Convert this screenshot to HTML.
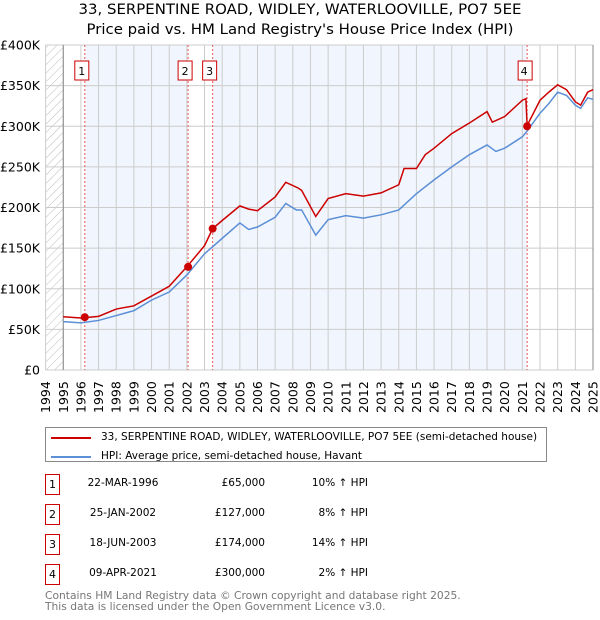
<!DOCTYPE html>
<html><head><meta charset="utf-8"><style>
body{margin:0;background:#fff;font-family:"DejaVu Sans","Liberation Sans",sans-serif;}
#wrap{position:relative;width:600px;height:620px;overflow:hidden}
.t{position:absolute;font-size:10.5px;color:#000;white-space:nowrap}
.box{position:absolute;border:1px solid #c00;width:13px;height:19px;font-size:11px;text-align:center;line-height:19px;background:#fff}
</style></head><body>
<div id="wrap">
<div class="t" style="left:0;width:600px;text-align:center;top:2px;font-size:14.5px;transform:scaleX(1.03)">33, SERPENTINE ROAD, WIDLEY, WATERLOOVILLE, PO7 5EE</div>
<div class="t" style="left:0;width:600px;text-align:center;top:22px;font-size:14.5px;transform:scaleX(1.03)">Price paid vs. HM Land Registry's House Price Index (HPI)</div>
<svg id="chart" width="600" height="420" style="position:absolute;left:0;top:0" font-family="DejaVu Sans, Liberation Sans, sans-serif" font-size="12"></svg>
<div style="position:absolute;left:45px;top:427px;width:500px;height:33px;border:1px solid #888;background:#fff">
 <div><div style="position:absolute;left:5px;top:9px;width:40px;height:2px;background:#c00"></div><div class="t" style="left:55px;top:3px">33, SERPENTINE ROAD, WIDLEY, WATERLOOVILLE, PO7 5EE (semi-detached house)</div></div>
 <div><div style="position:absolute;left:5px;top:28px;width:40px;height:2px;background:#5b8fd6"></div><div class="t" style="left:55px;top:22px">HPI: Average price, semi-detached house, Havant</div></div>
</div>
<div id="table"></div>
<div class="t" style="left:45px;top:589px;color:#777;font-size:10.7px">Contains HM Land Registry data © Crown copyright and database right 2025.</div>
<div class="t" style="left:45px;top:600px;color:#777;font-size:10.7px">This data is licensed under the Open Government Licence v3.0.</div>
</div>
<script>
const hpiYears=[1995,1996,1997,1998,1999,2000,2001,2002,2003,2004,2005,2005.5,2006,2007,2007.6,2008.2,2008.5,2009.3,2010,2011,2012,2013,2014,2015,2016,2017,2018,2019,2019.5,2020,2021,2021.3,2022,2022.5,2023,2023.5,2024,2024.3,2024.7,2025];
const hpiValues=[59.5,58,61,67,73,86,96,117,143,162,181,173,176,188,205,197,197,166,185,190,187,191,197,217,234,250,265,277,269,273,287,295,316,328,342,338,326,322,335,333];
const propYears=[1995,1996,1997,1998,1999,2000,2001,2002,2003,2003.46,2004,2005,2005.5,2006,2007,2007.6,2008.3,2008.5,2009.3,2010,2011,2012,2013,2014,2014.3,2015,2015.5,2016,2017,2018,2019,2019.3,2020,2021,2021.2,2021.27,2022,2022.5,2023,2023.5,2024,2024.3,2024.7,2025];
const propValues=[65.6,64,66,75,79,91,103,127,153,174,184,202,198,196,213,231,224,221,189,211,217,214,218,228,248,248,265,273,291,304,318,305,312,332,334,301,332,342,351,345,330,326,342,345];
const saleYears=[1996.22,2002.07,2003.46,2021.27];
const saleValues=[65,127,174,300];
const saleLabels=["1","2","3","4"];
const saleDates=["22-MAR-1996","25-JAN-2002","18-JUN-2003","09-APR-2021"];
const salePrices=["£65,000","£127,000","£174,000","£300,000"];
const saleHpi=["10% ↑ HPI","8% ↑ HPI","14% ↑ HPI","2% ↑ HPI"];
const yTicks=[0,50,100,150,200,250,300,350,400];
const yTickLabels=["£0","£50K","£100K","£150K","£200K","£250K","£300K","£350K","£400K"];
const X0=45.6,X1=593,Y0=370,Y1=45;
const x=y=>X0+(y-1994)/31*(X1-X0);
const yv=v=>Y0-v/400*(Y0-Y1);
const svg=document.getElementById('chart');const NS='http://www.w3.org/2000/svg';
function mk(tag,attrs,parent){const e=document.createElementNS(NS,tag);for(const k in attrs)e.setAttribute(k,attrs[k]);(parent||svg).appendChild(e);return e;}
const defs=mk('defs',{});
const pat=mk('pattern',{id:'hatch',width:6,height:6,patternUnits:'userSpaceOnUse',patternTransform:'rotate(45)'},defs);
mk('line',{x1:0,y1:0,x2:0,y2:6,stroke:'#bbb','stroke-width':1},pat);
const hatch=mk('rect',{x:X0,y:Y1,width:x(1995)-X0,height:Y0-Y1,fill:'url(#hatch)'});


for(let i=0;i<saleYears.length;i+=2){
 const end=i+1<saleYears.length?saleYears[i+1]:2025;
 const r=mk('rect',{x:x(saleYears[i]),y:Y1,width:x(end)-x(saleYears[i]),height:Y0-Y1,fill:'#eef3fd',opacity:0.8});
 
 
}
for(let yr=1994;yr<=2025;yr++){
 const g=mk('line',{x1:x(yr),x2:x(yr),y1:Y1,y2:Y0,stroke:'#ccc','stroke-width':1});
 
 
 const t=mk('text',{x:0,y:0,transform:`translate(${x(yr)+4.5},413) rotate(-90)`,'font-size':12.5});
 t.textContent=yr;
 
 
}
yTicks.forEach((v,i)=>{
 const g=mk('line',{x1:X0,x2:X1,y1:yv(v),y2:yv(v),stroke:'#ccc','stroke-width':1});
 
 
 const t=mk('text',{x:40,y:yv(v)+4.5,'text-anchor':'end','font-size':12.5});
 t.textContent=yTickLabels[i];
 
 
});
const ax=mk('line',{x1:x(1995),x2:x(1995),y1:Y1,y2:Y0,stroke:'#888'});


const ax2=mk('line',{x1:X1,x2:X1,y1:Y1,y2:Y0,stroke:'#888'});


saleYears.forEach((s,i)=>{
 const l=mk('line',{x1:x(s),x2:x(s),y1:Y1,y2:Y0,stroke:'#e55','stroke-dasharray':'2,2','stroke-width':1});
 
 
 const bx=mk('rect',{x:x(s)-10-(i==3?-1:0),y:61,width:14,height:19,fill:'#fff',stroke:'#c00'});
 
 
 const t=mk('text',{x:x(s)-3,y:75,'text-anchor':'middle','font-size':11});
 t.textContent=saleLabels[i];
 
 
});
const p1=mk('polyline',{points:hpiYears.map((d,i)=>x(d)+','+yv(hpiValues[i])).join(' '),fill:'none',stroke:'#5b8fd6','stroke-width':1.5});


const p2=mk('polyline',{points:propYears.map((d,i)=>x(d)+','+yv(propValues[i])).join(' '),fill:'none',stroke:'#c00','stroke-width':1.5});


saleYears.forEach((s,i)=>{
 const c=mk('circle',{cx:x(s),cy:yv(saleValues[i]),r:4,fill:'#c00'});
 
 
});
const tb=document.getElementById('table');
saleLabels.forEach((lab,i)=>{
 const top=474+i*30;
 const row=document.createElement('div');
 
 
 row.innerHTML=`<div class="box" style="left:45px;top:${top}px">${lab}</div>
 <div class="t" style="left:60px;width:126px;text-align:center;top:${top+3}px">${saleDates[i]}</div>
 <div class="t" style="left:170px;width:95px;text-align:right;top:${top+3}px">${salePrices[i]}</div>
 <div class="t" style="left:270px;width:98px;text-align:right;top:${top+3}px">${saleHpi[i]}</div>`;
 tb.appendChild(row);
});
</script>
</body></html>
